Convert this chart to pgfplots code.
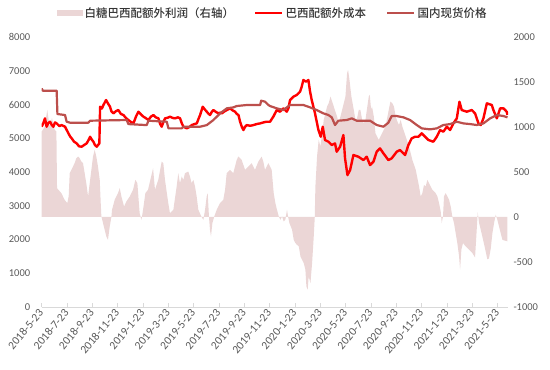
\documentclass[border=0pt]{standalone}
\usepackage{pgfplots}
\pgfplotsset{compat=1.18}
\usepackage{fontspec}
\setmainfont{Carlito}
\newfontfamily\cjk{Noto Sans CJK SC}[UprightFont={* Medium}]
\definecolor{areac}{HTML}{EBD6D6}
\definecolor{redc}{HTML}{FF0000}
\definecolor{brownc}{HTML}{BC4F4C}
\definecolor{txt}{HTML}{595959}
\definecolor{axc}{HTML}{D9D9D9}
\begin{document}
\begin{tikzpicture}
\useasboundingbox (0pt,0pt) rectangle (550pt,370pt);
\begin{axis}[
  at={(41.7pt,63pt)}, anchor=south west,
  scale only axis, width=466.3pt, height=270pt,
  xmin=0, xmax=36.8, ymin=-1000, ymax=2000,
  axis y line*=right, axis x line=none,
  y axis line style={draw=none},
  ytick={-1000,-500,0,500,1000,1500,2000},
  ytick style={draw=none},
  yticklabel style={font=\fontsize{10.5}{12}\selectfont, text=txt, xshift=2pt},
  /pgf/number format/assume math mode=true,
  /pgf/number format/1000 sep={},
]
\addplot[fill=areac, draw=none] coordinates {
(0.00,950) (0.23,1000) (0.44,1190) (0.63,1000) (0.81,1100) (1.02,970) (1.16,950) (1.21,320) (1.55,265) (1.81,191) (2.02,154) (2.13,230) (2.21,487) (2.34,524) (2.60,598) (2.73,653) (2.87,672) (3.00,653) (3.13,616) (3.26,598) (3.39,487) (3.52,376) (3.66,228) (3.79,376) (3.92,524) (4.05,672) (4.18,746) (4.31,672) (4.44,561) (4.58,413) (4.66,150) (4.71,6) (4.84,-68) (4.97,-142) (5.10,-216) (5.23,-253) (5.37,-105) (5.50,0) (5.55,80) (5.76,191) (6.02,265) (6.16,320) (6.29,228) (6.50,117) (6.68,172) (6.95,228) (7.21,302) (7.39,413) (7.55,376) (7.73,43) (7.87,-31) (8.00,80) (8.18,265) (8.39,302) (8.79,542)
(8.94,302) (9.20,413) (9.47,616) (9.60,598) (9.73,413) (9.99,154) (10.12,43) (10.39,80) (10.65,339) (10.78,487) (10.91,376) (11.05,450) (11.18,413) (11.31,487) (11.57,505) (11.70,450) (11.83,376) (11.97,413) (12.10,339) (12.23,228) (12.36,80) (12.62,0) (12.76,-31) (12.89,80) (13.02,228) (13.10,265) (13.20,6) (13.28,-142) (13.36,-216) (13.47,-68) (13.62,6) (13.81,80) (14.07,154) (14.33,191) (14.47,302) (14.60,487) (14.86,524) (15.12,487) (15.39,635) (15.52,672) (15.78,635) (16.05,524) (16.31,561) (16.57,598) (16.83,524) (17.10,616) (17.36,672) (17.49,616) (17.62,524) (17.89,598) (18.15,524)
(18.31,265) (18.44,154) (18.57,80) (18.71,6) (18.84,-31) (18.97,6) (19.10,-50) (19.23,-31) (19.36,80) (19.44,6) (19.55,-68) (19.76,-142) (19.89,-253) (20.02,-290) (20.15,-309) (20.29,-327) (20.42,-438) (20.55,-475) (20.68,-512) (20.81,-586) (20.89,-771) (20.99,-808) (21.07,-660) (21.21,-734) (21.34,-512) (21.47,-216) (21.55,0) (21.60,339) (21.73,672) (21.86,857) (22.00,783) (22.13,931) (22.26,1079) (22.39,1153) (22.52,1227) (22.65,1264) (22.79,1338) (22.92,1283) (23.05,1227) (23.31,1116) (23.44,1042) (23.71,1190) (23.97,1338) (24.10,1597) (24.18,1634) (24.29,1523) (24.44,1338) (24.63,1190) (24.76,1079) (24.89,1098) (25.02,1190) (25.15,1190) (25.29,1079) (25.42,1042) (25.55,1079) (25.68,1209) (25.81,1338) (25.89,1357) (26.00,1190) (26.07,1227) (26.21,1116) (26.34,931) (26.47,894) (26.60,857) (26.86,931) (27.13,1005) (27.39,1190) (27.52,1283)
(27.67,1264) (27.80,1227) (27.94,1116) (28.07,1061) (28.20,1024) (28.33,1079) (28.46,1005) (28.73,894) (28.99,783) (29.25,635) (29.52,524) (29.78,339) (29.91,228) (30.04,265) (30.17,357) (30.30,339) (30.44,413) (30.57,376) (30.70,339) (30.83,302) (31.09,265) (31.23,228) (31.36,154) (31.49,62) (31.57,-68) (31.67,6) (31.75,228) (31.88,265) (32.02,228) (32.15,191) (32.28,117) (32.41,0) (32.54,-68) (32.67,-179) (32.80,-290) (32.94,-438) (33.02,-586) (33.12,-364) (33.25,-290) (33.46,-327) (33.73,-364) (33.99,-401) (34.20,-450) (34.30,-216) (34.41,50) (34.52,-68) (34.65,-142) (34.91,-300) (35.17,-470) (35.30,-460) (35.44,-350) (35.57,-179) (35.70,-68) (35.83,25) (35.96,-31) (36.09,-105) (36.22,-179) (36.36,-253) (36.49,-260) (36.75,-270)
} \closedcycle;
\end{axis}
\begin{axis}[
  at={(41.7pt,63pt)}, anchor=south west,
  scale only axis, width=466.3pt, height=270pt,
  xmin=0, xmax=36.8, ymin=0, ymax=8000,
  axis y line*=left, axis x line*=bottom,
  y axis line style={draw=none},
  x axis line style={draw=axc, line width=0.8pt, -},
  ytick={0,1000,...,8000},
  ytick style={draw=none},
  xtick={0,2,...,36},
  xticklabels={2018-5-23,2018-7-23,2018-9-23,2018-11-23,2019-1-23,2019-3-23,2019-5-23,2019-7-23,2019-9-23,2019-11-23,2020-1-23,2020-3-23,2020-5-23,2020-7-23,2020-9-23,2020-11-23,2021-1-23,2021-3-23,2021-5-23},
  xtick style={draw=axc, line width=0.8pt},
  tick align=inside, major tick length=4pt,
  xticklabel style={font=\fontsize{11.5}{12}\selectfont, text=txt, rotate=50, anchor=east, yshift=-2pt},
  yticklabel style={font=\fontsize{10.5}{12}\selectfont, text=txt, xshift=-8pt},
  /pgf/number format/assume math mode=true,
  /pgf/number format/1000 sep={},
  legend columns=3,
  legend style={draw=none, fill=none, at={(0.496,1.089)}, anchor=center, font=\cjk\fontsize{11.5}{14}\selectfont, text=black!80,
    /tikz/every even column/.append style={column sep=18pt}},
  legend cell align=left,
]
\addlegendimage{legend image code/.code={\fill[areac] (0pt,-2.5pt) rectangle (25pt,2.5pt);}}
\addlegendentry{白糖巴西配额外利润（右轴）}
\addplot[redc, line width=2.4pt, line join=round, legend image code/.code={\draw[redc, line width=2.5pt] (0pt,0pt) -- (27pt,0pt);}] coordinates {
(0.00,5342) (0.13,5450) (0.26,5590) (0.39,5342) (0.52,5450) (0.66,5490) (0.80,5390) (0.92,5342) (1.05,5470) (1.18,5440) (1.40,5360) (1.58,5390) (1.84,5342) (2.11,5145) (2.25,5050) (2.37,4996) (2.55,4900) (2.76,4848) (2.95,4760) (3.16,4750) (3.35,4800) (3.55,4848) (3.70,4950) (3.82,5045) (3.95,4960) (4.08,4898) (4.20,4800) (4.34,4750) (4.45,4800) (4.55,4848) (4.61,5935) (4.75,5880) (4.87,5985) (5.08,6133) (5.20,6050) (5.39,5935) (5.50,5800) (5.66,5737) (5.85,5800) (6.05,5836) (6.25,5720) (6.45,5688) (6.65,5600) (6.84,5540) (7.05,5480) (7.24,5440) (7.45,5650) (7.63,5787) (7.85,5700) (8.03,5639) (8.20,5600) (8.42,5540) (8.62,5640) (8.82,5688) (9.00,5620) (9.21,5590) (9.35,5420) (9.47,5342) (9.60,5480) (9.74,5590) (9.95,5610) (10.13,5639) (10.35,5600) (10.53,5590) (10.75,5620) (10.92,5590) (11.05,5450) (11.18,5342) (11.45,5293) (11.65,5330) (11.84,5390) (12.05,5420) (12.24,5440) (12.38,5580) (12.50,5688) (12.71,5935) (12.88,5850) (13.03,5787) (13.15,5730) (13.29,5688) (13.42,5780) (13.55,5836) (13.75,5780) (13.95,5737) (14.10,5760) (14.21,5737) (14.40,5790) (14.61,5836) (14.87,5886) (15.05,5830) (15.26,5787) (15.40,5720) (15.53,5688) (15.65,5500) (15.79,5342) (15.92,5243) (16.05,5340) (16.18,5390) (16.45,5370) (16.71,5390) (16.95,5420) (17.24,5440) (17.50,5470) (17.76,5490) (18.02,5490) (18.28,5640) (18.55,5836) (18.81,5787) (19.07,5886) (19.34,5787) (19.47,5886) (19.60,6133) (19.86,6231) (20.13,6281) (20.39,6380) (20.52,6528) (20.65,6725) (20.86,6676) (21.05,6725) (21.18,6380) (21.31,6133) (21.57,5737) (21.84,5243) (22.02,5045) (22.18,5342) (22.36,4947) (22.63,4897) (22.89,4799) (23.15,4848) (23.28,4601) (23.55,4750) (23.81,5095) (23.94,4404) (24.13,3909) (24.34,4058) (24.60,4503) (24.99,4453) (25.39,4354) (25.65,4453) (25.91,4206) (26.18,4305) (26.44,4601) (26.70,4700) (26.97,4552) (27.36,4354) (27.62,4404) (28.02,4601) (28.28,4651) (28.68,4503) (28.94,4799) (29.20,4996) (29.47,5045) (29.73,5045) (29.99,5145) (30.26,5045) (30.52,4947) (30.91,4898) (31.18,5045) (31.44,5243) (31.70,5194) (31.97,5342) (32.23,5243) (32.49,5440) (32.76,5590) (32.97,6083) (33.15,5836) (33.55,5787) (33.94,5836) (34.20,5737) (34.47,5440) (34.65,5392) (34.86,5590) (35.13,6034) (35.52,5985) (35.65,5836) (35.92,5590) (36.18,5886) (36.44,5886) (36.70,5787) (36.76,5690)
};
\addlegendentry{巴西配额外成本}
\addplot[brownc, line width=2.2pt, line join=round, legend image code/.code={\draw[brownc, line width=2.5pt] (0pt,0pt) -- (27pt,0pt);}] coordinates {
(0.00,6478) (0.08,6409) (1.18,6409) (1.24,5718) (1.84,5688) (1.97,5490) (2.24,5461) (3.68,5461) (3.82,5520) (6.71,5540) (6.84,5420) (8.29,5390) (8.42,5520) (9.87,5490) (10.00,5293) (11.05,5293) (11.18,5342) (12.50,5342) (13.03,5390) (13.55,5540) (14.08,5737) (14.61,5886) (15.13,5915) (15.39,5955) (16.18,5985) (17.24,5985) (17.32,6113) (17.63,6083) (17.89,5985) (18.02,5955) (18.55,5886) (19.07,5836) (19.60,5985) (20.65,5985) (21.18,5915) (21.70,5836) (22.23,5737) (22.63,5688) (22.89,5619) (23.15,5392) (23.41,5520) (24.07,5540) (24.47,5590) (24.86,5520) (25.91,5520) (26.44,5392) (26.97,5342) (27.36,5461) (27.62,5658) (28.02,5658) (28.55,5619) (29.07,5540) (29.60,5392) (29.99,5293) (30.65,5263) (31.18,5293) (31.70,5392) (32.23,5420) (32.76,5490) (33.28,5440) (33.81,5420) (34.34,5392) (34.86,5440) (35.39,5590) (35.92,5688) (36.44,5658) (36.76,5619)
};
\addlegendentry{国内现货价格}
\end{axis}
\end{tikzpicture}
\end{document}
